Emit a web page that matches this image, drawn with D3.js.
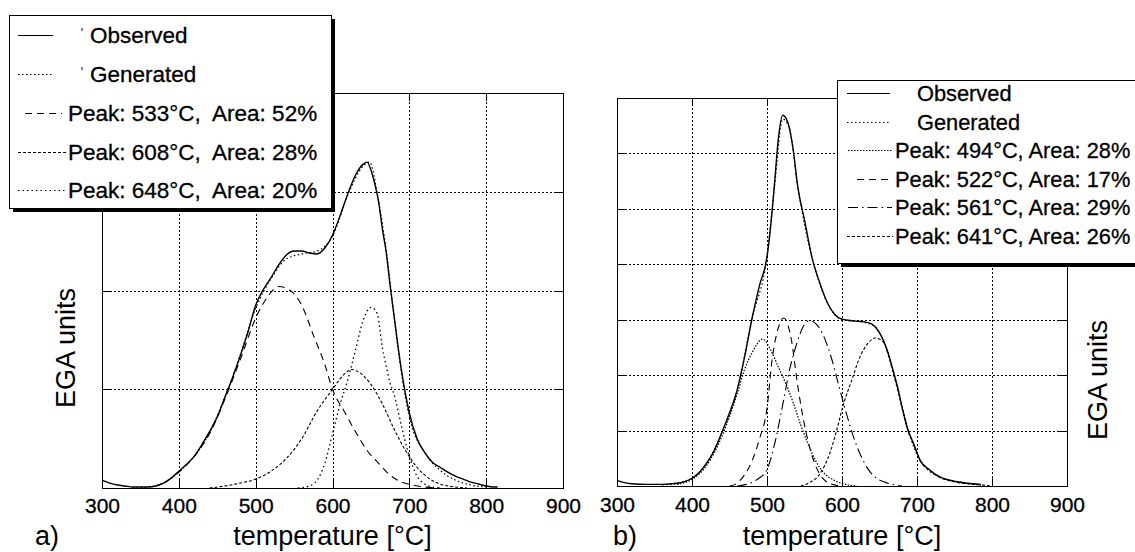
<!DOCTYPE html>
<html><head><meta charset="utf-8">
<script src="https://cdn.jsdelivr.net/npm/d3@7"></script>
<style>
html,body{margin:0;padding:0;background:#fff;}
svg{display:block;font-family:"Liberation Sans",Arial,sans-serif;}
</style></head>
<body>
<svg id="chart" width="1135" height="552"></svg>
<script>
// ---------------- data ----------------
const xTicks = [300,400,500,600,700,800,900];
const xTickLabels = ["300","400","500","600","700","800","900"];
const xLabel = "temperature [°C]";
const yLabel = "EGA units";
const panelLabels = ["a)","b)"];

// panel a) : [temperature, EGA]
const observedA = [[300,0.08],[310,0.05],[320,0.03],[330,0.02],[340,0.01],[350,0.01],[360,0.01],[370,0.02],[380,0.05],[390,0.10],
 [400,0.17],[410,0.24],[420,0.32],[430,0.44],[440,0.57],[450,0.72],[460,0.92],[470,1.12],[480,1.34],[490,1.58],
 [500,1.85],[510,2.01],[520,2.13],[530,2.26],[540,2.36],[550,2.40],[560,2.40],[570,2.38],[580,2.37],[590,2.43],
 [600,2.56],[610,2.76],[620,2.98],[630,3.17],[640,3.28],[645,3.30],[650,3.22],[655,3.08],[660,2.90],[665,2.62],
 [670,2.38],[675,2.05],[680,1.75],[685,1.45],[690,1.18],[695,0.95],[700,0.76],[710,0.50],[720,0.36],[730,0.26],
 [740,0.21],[750,0.16],[760,0.12],[770,0.09],[780,0.06],[790,0.04],[800,0.02],[810,0.01],[815,0.01]];
const generatedA = [[340,0.00],[360,0.01],[380,0.05],[400,0.16],[420,0.32],[440,0.56],[460,0.92],[480,1.35],[500,1.82],
 [520,2.12],[540,2.32],[560,2.37],[580,2.40],[600,2.55],[620,2.97],[640,3.26],[648,3.30],[660,2.90],[670,2.40],
 [680,1.75],[690,1.15],[700,0.72],[720,0.36],[740,0.18],[760,0.08],[780,0.03],[800,0.01]];
const peak533 = [[370,0.02],[380,0.05],[400,0.16],[420,0.32],[440,0.55],[460,0.90],[480,1.30],[500,1.72],[515,1.93],[530,2.04],
 [545,2.00],[560,1.85],[575,1.55],[590,1.25],[600,1.00],[615,0.78],[630,0.57],[645,0.38],[660,0.25],[675,0.13],
 [690,0.06],[705,0.03],[720,0.01],[740,0.00]];
const peak608 = [[440,0.00],[460,0.02],[480,0.05],[500,0.09],[520,0.17],[540,0.30],[560,0.50],[580,0.78],[600,1.00],[615,1.15],
 [625,1.20],[635,1.17],[650,1.05],[665,0.85],[680,0.60],[695,0.38],[710,0.21],[725,0.10],[740,0.04],[760,0.01],[775,0.00]];
const peak648 = [[555,0.00],[570,0.02],[580,0.08],[590,0.25],[600,0.55],[610,0.85],[620,1.10],[630,1.40],[640,1.70],[650,1.83],
 [658,1.77],[665,1.42],[670,1.23],[675,1.06],[680,0.95],[690,0.62],[700,0.32],[710,0.12],[720,0.04],[730,0.01],[740,0.00]];

// panel b)
const observedB = [[300,0.10],[310,0.06],[320,0.04],[340,0.03],[360,0.03],[380,0.05],[390,0.08],[400,0.14],[410,0.25],[420,0.42],
 [430,0.65],[440,0.97],[450,1.32],[460,1.72],[470,2.32],[480,3.02],[490,3.62],[500,4.13],[505,4.70],[510,5.45],
 [515,6.25],[521,6.69],[528,6.55],[535,6.06],[541,5.40],[550,4.80],[560,4.12],[570,3.68],[580,3.32],[590,3.10],
 [600,3.01],[615,2.98],[630,2.96],[640,2.92],[645,2.86],[653,2.69],[661,2.42],[668,2.09],[675,1.73],[681,1.37],
 [688,1.01],[695,0.78],[704,0.47],[717,0.29],[731,0.16],[748,0.09],[767,0.05],[785,0.03]];
const generatedB = [[360,0.02],[380,0.05],[400,0.14],[420,0.42],[440,0.97],[460,1.72],[480,3.02],[500,4.15],[510,5.40],
 [521,6.62],[530,6.45],[541,5.40],[560,4.12],[580,3.32],[600,3.00],[630,2.95],[645,2.86],[661,2.42],[675,1.73],
 [688,1.01],[704,0.47],[731,0.16],[767,0.05],[790,0.01]];
const peak494 = [[380,0.03],[400,0.12],[420,0.38],[440,0.90],[450,1.25],[460,1.65],[470,2.10],[480,2.40],[494,2.65],[505,2.45],
 [515,2.15],[525,1.85],[535,1.50],[545,1.10],[555,0.75],[565,0.45],[575,0.25],[590,0.10],[605,0.03],[620,0.00]];
const peak522 = [[450,0.00],[460,0.05],[470,0.20],[480,0.45],[490,0.85],[500,1.40],[507,2.30],[515,2.85],[522,3.03],[528,2.90],
 [533,2.60],[540,1.90],[550,1.10],[560,0.55],[570,0.22],[580,0.07],[590,0.02],[600,0.00]];
const peak561 = [[460,0.00],[470,0.02],[485,0.10],[500,0.30],[510,0.75],[520,1.40],[531,2.15],[540,2.58],[548,2.87],[557,2.98],
 [565,2.93],[575,2.72],[585,2.35],[595,1.85],[605,1.35],[615,0.90],[625,0.55],[635,0.30],[645,0.15],[657,0.07],
 [670,0.02],[680,0.00]];
const peak641 = [[545,0.00],[555,0.05],[571,0.23],[584,0.60],[593,1.01],[601,1.43],[613,1.91],[624,2.33],[635,2.58],[644,2.67],
 [655,2.60],[662,2.35],[668,2.05],[675,1.70],[681,1.35],[688,1.00],[695,0.77],[704,0.46],[717,0.28],[731,0.15],
 [748,0.08],[767,0.04],[785,0.02],[800,0.00]];

const legendA = ["Observed","Generated","Peak: 533°C,  Area: 52%","Peak: 608°C,  Area: 28%","Peak: 648°C,  Area: 20%"];
const legendB = ["Observed","Generated","Peak: 494°C, Area: 28%","Peak: 522°C, Area: 17%","Peak: 561°C, Area: 29%","Peak: 641°C, Area: 26%"];

// ---------------- drawing ----------------
const svg = d3.select("#chart");
const FONT = '"Liberation Sans", Arial, sans-serif';

const styles = {
  observed: {dash: null, w: 1.4},
  generated: {dash: "1.5,2.5", w: 1.2},
  longdash: {dash: "7,5", w: 1.1},
  shortdash: {dash: "3,2", w: 1.1},
  dotted: {dash: "1.5,3", w: 1.3},
  densedot: {dash: "1.5,1.5", w: 1.2},
  dashdot: {dash: "10,4,1.5,4", w: 1.1}
};
const px = v => Math.round(v) + 0.5;

function panel(cfg) {
  const x = d3.scaleLinear().domain([300,900]).range([cfg.x0, cfg.x1]);
  const y = d3.scaleLinear().domain([0, cfg.ymax]).range([cfg.y0, cfg.y1]);
  const g = svg.append("g");
  const yTicks = d3.range(1, cfg.ymax);
  const inner = xTicks.slice(1, -1);
  const crisp = sel => sel.attr("shape-rendering","crispEdges").attr("stroke","#000").attr("stroke-width",1);
  // grid
  g.selectAll(".vg").data(inner).join("line")
    .attr("x1", d => px(x(d))).attr("x2", d => px(x(d))).attr("y1", y(0)).attr("y2", y(cfg.ymax))
    .call(crisp).attr("stroke-dasharray","2,2");
  g.selectAll(".hg").data(yTicks).join("line")
    .attr("x1", x(300)).attr("x2", x(900)).attr("y1", d => px(y(d))).attr("y2", d => px(y(d)))
    .call(crisp).attr("stroke-dasharray","2,2");
  // inward ticks
  const T = 8;
  inner.forEach(d => {
    g.append("line").attr("x1",px(x(d))).attr("x2",px(x(d))).attr("y1",y(0)).attr("y2",y(0)-T).call(crisp);
    g.append("line").attr("x1",px(x(d))).attr("x2",px(x(d))).attr("y1",y(cfg.ymax)).attr("y2",y(cfg.ymax)+T).call(crisp);
  });
  yTicks.forEach(d => {
    g.append("line").attr("x1",x(300)).attr("x2",x(300)+T).attr("y1",px(y(d))).attr("y2",px(y(d))).call(crisp);
    g.append("line").attr("x1",x(900)).attr("x2",x(900)-T).attr("y1",px(y(d))).attr("y2",px(y(d))).call(crisp);
  });
  // frame
  g.append("rect").attr("x", px(x(300))).attr("y", px(y(cfg.ymax))).attr("width", Math.round(x(900)-x(300))).attr("height", Math.round(y(0)-y(cfg.ymax)))
    .attr("fill","none").call(crisp);
  // curves
  const line = d3.line().x(d => x(d[0])).y(d => y(d[1])).curve(d3.curveMonotoneX);
  cfg.series.forEach(s => {
    const st = styles[s.style];
    g.append("path").datum(s.data).attr("d", line).attr("fill","none").attr("stroke","#000")
      .attr("stroke-width", st.w).attr("stroke-dasharray", st.dash);
  });
  // x axis labels
  const ax = d3.axisBottom(x).tickValues(xTicks).tickFormat((d,i) => xTickLabels[i]).tickSize(0).tickPadding(cfg.pad);
  const axg = g.append("g").attr("transform", `translate(0,${y(0)})`).call(ax);
  axg.select(".domain").remove();
  axg.selectAll("text").attr("font-family", FONT).attr("font-size", 21).attr("fill","#000")
    .attr("stroke","#000").attr("stroke-width",0.3);
  // titles
  g.append("text").attr("x", (cfg.x0+cfg.x1)/2).attr("y", 545).attr("text-anchor","middle")
    .attr("font-family",FONT).attr("font-size",27).text(xLabel);
  g.append("text").attr("x", cfg.labX).attr("y", 545).attr("font-family",FONT).attr("font-size",27).text(cfg.label);
  g.append("text").attr("transform", `translate(${cfg.yLabX},${cfg.yLabY}) rotate(-90)`).attr("text-anchor","middle")
    .attr("font-family",FONT).attr("font-size",27).text(yLabel);
  return {x, y};
}

panel({x0:102, x1:563, y0:488, y1:93, ymax:4, pad:10, label: panelLabels[0], labX:35, yLabX:75, yLabY:348,
  series: [
    {data: peak533, style:"longdash"},
    {data: peak608, style:"shortdash"},
    {data: peak648, style:"dotted"},
    {data: generatedA, style:"generated"},
    {data: observedA, style:"observed"}
  ]});
panel({x0:617, x1:1067, y0:486, y1:98, ymax:7, pad:11, label: panelLabels[1], labX:613, yLabX:1107, yLabY:380,
  series: [
    {data: peak494, style:"densedot"},
    {data: peak522, style:"longdash"},
    {data: peak561, style:"dashdot"},
    {data: peak641, style:"shortdash"},
    {data: generatedB, style:"generated"},
    {data: observedB, style:"observed"}
  ]});

// ---------------- legends ----------------
function legend(cfg) {
  const g = svg.append("g");
  g.append("rect").attr("x", cfg.x+cfg.sh).attr("y", cfg.y+cfg.sh).attr("width", cfg.w).attr("height", cfg.h).attr("fill","#000");
  g.append("rect").attr("x", cfg.x+0.5).attr("y", cfg.y+0.5).attr("width", cfg.w).attr("height", cfg.h)
    .attr("fill","#fff").attr("stroke","#000").attr("stroke-width",1).attr("shape-rendering","crispEdges");
  cfg.items.forEach((it, i) => {
    const by = cfg.base[i];
    const st = styles[it.style];
    g.append("line").attr("x1", it.l0).attr("x2", it.l1).attr("y1", by-7.5).attr("y2", by-7.5)
      .attr("stroke","#000").attr("stroke-width", 1).attr("stroke-dasharray", st.dash);
    g.append("text").attr("x", it.tx).attr("y", by).attr("font-family",FONT).attr("font-size",cfg.fs)
      .attr("stroke","#000").attr("stroke-width",0.3)
      .style("white-space","pre").text(it.text);
    if (it.mark) g.append("line").attr("x1", it.mark).attr("x2", it.mark).attr("y1", by-15).attr("y2", by-12).attr("stroke","#000");
  });
}
legend({x:9, y:15, w:322, h:193, sh:4, fs:22.5, base:[43,82,121,160,198], items:[
  {text:legendA[0], style:"observed", l0:18, l1:53, tx:90, mark:82},
  {text:legendA[1], style:"generated", l0:18, l1:53, tx:90, mark:82},
  {text:legendA[2], style:"longdash", l0:25, l1:62, tx:68},
  {text:legendA[3], style:"shortdash", l0:18, l1:67, tx:68},
  {text:legendA[4], style:"dotted", l0:18, l1:67, tx:68}
]});
legend({x:837, y:80, w:320, h:183, sh:4, fs:21.8, base:[101,130,158,187,215,244], items:[
  {text:legendB[0], style:"observed", l0:847, l1:890, tx:917},
  {text:legendB[1], style:"generated", l0:847, l1:890, tx:917},
  {text:legendB[2], style:"densedot", l0:848, l1:893, tx:895},
  {text:legendB[3], style:"longdash", l0:857, l1:892, tx:895},
  {text:legendB[4], style:"dashdot", l0:848, l1:892, tx:895},
  {text:legendB[5], style:"shortdash", l0:847, l1:893, tx:895}
]});
</script>
</body></html>
